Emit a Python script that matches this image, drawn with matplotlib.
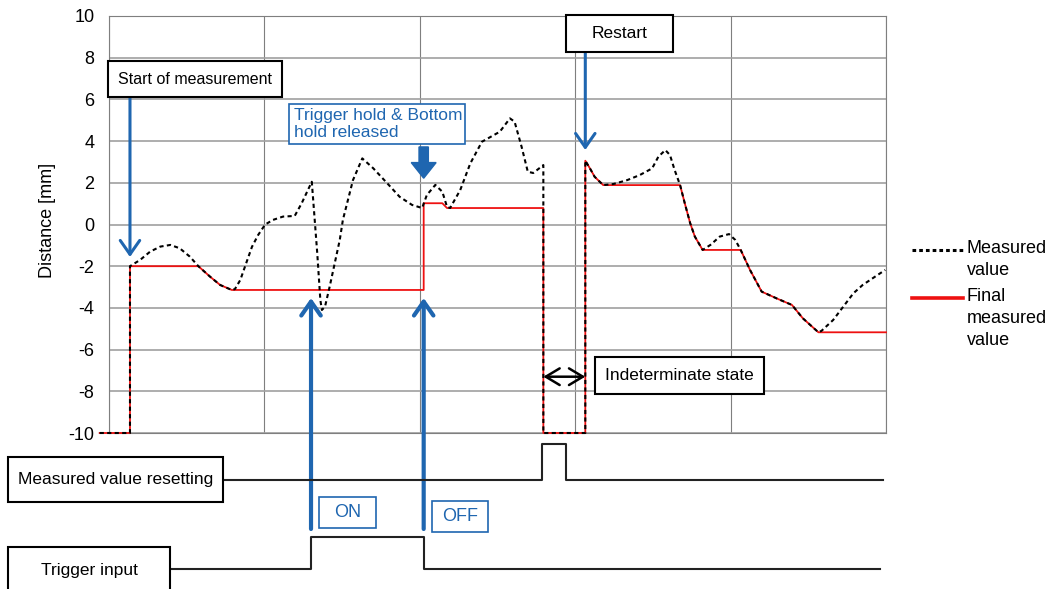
import matplotlib
matplotlib.use("Agg")
import matplotlib.pyplot as plt
from matplotlib.patches import Rectangle
from matplotlib.lines import Line2D

plt.rcParams['font.family'] = ['Liberation Sans', 'DejaVu Sans']
plt.rcParams['axes.unicode_minus'] = False

# measured distance (dotted) over time, 0..100 = full width of the plot
meas_t = [-1.2, 2.7, 2.7, 4.0, 5.3, 6.6, 7.9, 9.1, 10.4, 11.5, 13.0, 14.3, 15.8, 16.2,
          16.9, 17.5, 18.4, 19.2, 20.1, 21.1, 22.4, 23.9, 24.8, 26.1, 26.8, 27.2, 27.4,
          27.8, 28.4, 29.7, 30.1, 31.4, 32.6, 34.0, 35.8, 37.4, 39.0, 40.3, 40.9, 42.0,
          42.9, 43.5, 43.9, 45.2, 46.5, 48.0, 50.3, 51.6, 52.2, 53.1, 53.9, 54.6, 55.9,
          55.9, 61.3, 61.3, 61.9, 62.5, 63.6, 64.9, 66.7, 68.3, 69.9, 70.7, 71.6, 72.2,
          72.8, 73.5, 74.1, 74.8, 75.4, 76.4, 77.4, 78.6, 79.8, 80.6, 81.3, 82.5, 84.0,
          85.9, 87.9, 89.3, 91.3, 91.7, 93.2, 94.5, 95.8, 97.0, 98.6, 99.9]
meas_v = [-10, -10, -2.0, -1.7, -1.3, -1.06, -0.98, -1.14, -1.54, -2.0, -2.5, -2.9, -3.14, -3.1,
          -2.66, -2.02, -1.07, -0.5, 0.0, 0.22, 0.38, 0.41, 1.02, 2.05, -1.37, -3.62, -4.1,
          -3.94, -2.98, -0.74, 0.22, 2.13, 3.17, 2.7, 1.98, 1.33, 0.94, 0.79, 1.41, 1.9,
          1.57, 0.85, 0.79, 1.65, 2.93, 3.97, 4.45, 5.09, 4.93, 3.73, 2.53, 2.47, 2.85,
          -10, -10, 3.06, 2.69, 2.29, 1.89, 1.94, 2.13, 2.37, 2.69, 3.25, 3.57, 3.33,
          2.61, 1.89, 1.02, 0.06, -0.58, -1.22, -0.98, -0.58, -0.46, -0.74, -1.22, -2.18, -3.22,
          -3.54, -3.86, -4.5, -5.17, -5.1, -4.58, -3.94, -3.3, -2.9, -2.5, -2.18]

# final measured value (held output)
final_t = [-1.2, 2.7, 2.7, 11.5, 13.0, 14.3, 15.8, 40.5, 40.5, 42.9, 43.5, 55.9, 55.9,
           61.3, 61.3, 61.9, 62.5, 63.6, 73.5, 74.1, 74.8, 75.4, 76.4, 81.3, 82.5, 84.0,
           85.9, 87.9, 89.3, 91.3, 100]
final_v = [-10, -10, -2, -2, -2.5, -2.9, -3.14, -3.14, 1.02, 1.02, 0.79, 0.79, -10,
           -10, 3.06, 2.69, 2.29, 1.89, 1.89, 1.02, 0.06, -0.58, -1.22, -1.22, -2.18, -3.22,
           -3.54, -3.86, -4.5, -5.17, -5.17]

# digital signals (step changes)
reset_t = [14.7, 55.7, 58.8, 99.6]
reset_state = [0, 1, 0, 0]
trig_t = [8.1, 26.0, 40.5, 99.2]
trig_state = [0, 1, 0, 0]

start_t = 2.7
drop_t = 55.9
restart_t = 61.3
trig_on, trig_off = 26.0, 40.5

y_ticks = list(range(-10, 11, 2))
x_grid = list(range(0, 101, 20))

W, H = 1059, 589
BLUE = '#1f66b0'
RED = '#ee1111'

fig = plt.figure(figsize=(W / 100, H / 100), dpi=100)
ax = fig.add_axes([109 / W, 1 - 433 / H, 777 / W, 417 / H])
ax.set_xlim(0, 100)
ax.set_ylim(-10, 10)
ax.set_xticks(x_grid)
ax.set_xticklabels([])
ax.set_yticks(y_ticks)
ax.tick_params(axis='x', length=0)
ax.tick_params(axis='y', length=0, pad=10.5, labelsize=13)
ax.xaxis.grid(True, color='#7f7f7f', lw=0.8)
ax.yaxis.grid(True, color='#a0a0a0', lw=1.2)
ax.set_axisbelow(True)
for s in ax.spines.values():
    s.set_color('#7f7f7f')
    s.set_linewidth(0.8)
ax.set_ylabel('Distance [mm]', fontsize=13)
ax.yaxis.set_label_coords(-0.068, 0.51)

ax.plot(final_t, final_v, color=RED, lw=1.3, clip_on=False, zorder=3)
ax.plot(meas_t, meas_v, color='black', lw=1.5, ls=(0, (2, 1.6)), clip_on=False, zorder=4)

# timing signals below the plot
sig = fig.add_axes([109 / W, 0, 777 / W, 156 / H])
sig.set_xlim(0, 100)
sig.set_ylim(0, 156)
sig.axis('off')
reset_low, reset_amp = 109, 36
trig_low, trig_amp = 20, 32
sig.step(reset_t, [reset_low + reset_amp * s for s in reset_state], where='post',
         color='#222222', lw=1.5)
sig.step(trig_t, [trig_low + trig_amp * s for s in trig_state], where='post',
         color='#222222', lw=1.5)


def box(x0, y0, x1, y1, text, color='black', fs=12.5, lw=1.5, ha='center', tx=None):
    fig.add_artist(Rectangle((x0 / W, 1 - y1 / H), (x1 - x0) / W, (y1 - y0) / H,
                             transform=fig.transFigure, fc='white', ec=color, lw=lw,
                             zorder=5))
    if tx is None:
        tx = (x0 + x1) / 2
    fig.text(tx / W, 1 - (y0 + y1) / 2 / H, text, ha=ha, va='center', fontsize=fs,
             color=color, zorder=6, linespacing=1.1)


def arrow(x, y_from, y_to, lw=2.5, color=BLUE, style='->,head_width=0.35,head_length=0.5'):
    ax.annotate('', xy=(x, H - y_to), xycoords=('data', 'figure pixels'),
                xytext=(x, H - y_from), textcoords=('data', 'figure pixels'),
                arrowprops=dict(arrowstyle=style, color=color, lw=lw, shrinkA=0, shrinkB=0,
                                mutation_scale=20),
                annotation_clip=False, zorder=6)


box(108, 61, 282, 97, 'Start of measurement', fs=11.5)
box(566, 15, 673, 52, 'Restart')
box(595, 357, 764, 394, 'Indeterminate state')
box(8, 457, 223, 502, 'Measured value resetting')
box(8, 547, 170, 595, 'Trigger input', tx=89)
box(289, 104, 465, 144, 'Trigger hold & Bottom\nhold released', color=BLUE, lw=1.2,
    ha='left', tx=294)
box(319, 497, 376, 528, 'ON', color=BLUE, lw=1.2, fs=13)
box(432, 501, 488, 532, 'OFF', color=BLUE, lw=1.2, fs=13)

arrow(start_t, 97, 257, lw=2.2)
arrow(restart_t, 52, 150, lw=2.2)
arrow(trig_on, 529, 298, lw=3)
arrow(trig_off, 529, 298, lw=3)

# released-hold marker
ax.arrow(trig_off, 3.72, 0, -1.5, width=1.2, head_width=3.2, head_length=0.75,
         length_includes_head=True, color=BLUE, zorder=6, clip_on=False)

# indeterminate span
ax.annotate('', xy=(restart_t, -7.3), xytext=(drop_t, -7.3),
            arrowprops=dict(arrowstyle='<->,head_width=0.3,head_length=0.5', color='black',
                            lw=1.8, shrinkA=0, shrinkB=0, mutation_scale=20), zorder=6)

# legend
fig.add_artist(Line2D([912 / W, 963 / W], [1 - 250 / H, 1 - 250 / H], color='black',
                      lw=2.2, ls=(0, (1.2, 1.0)), transform=fig.transFigure))
fig.add_artist(Line2D([912 / W, 963 / W], [1 - 298 / H, 1 - 298 / H], color=RED,
                      lw=2.6, transform=fig.transFigure))
fig.text(967 / W, 1 - 240 / H, 'Measured\nvalue', ha='left', va='top', fontsize=13,
         linespacing=1.4)
fig.text(967 / W, 1 - 288 / H, 'Final\nmeasured\nvalue', ha='left', va='top', fontsize=13,
         linespacing=1.4)

fig.savefig('out.png', dpi=100)
